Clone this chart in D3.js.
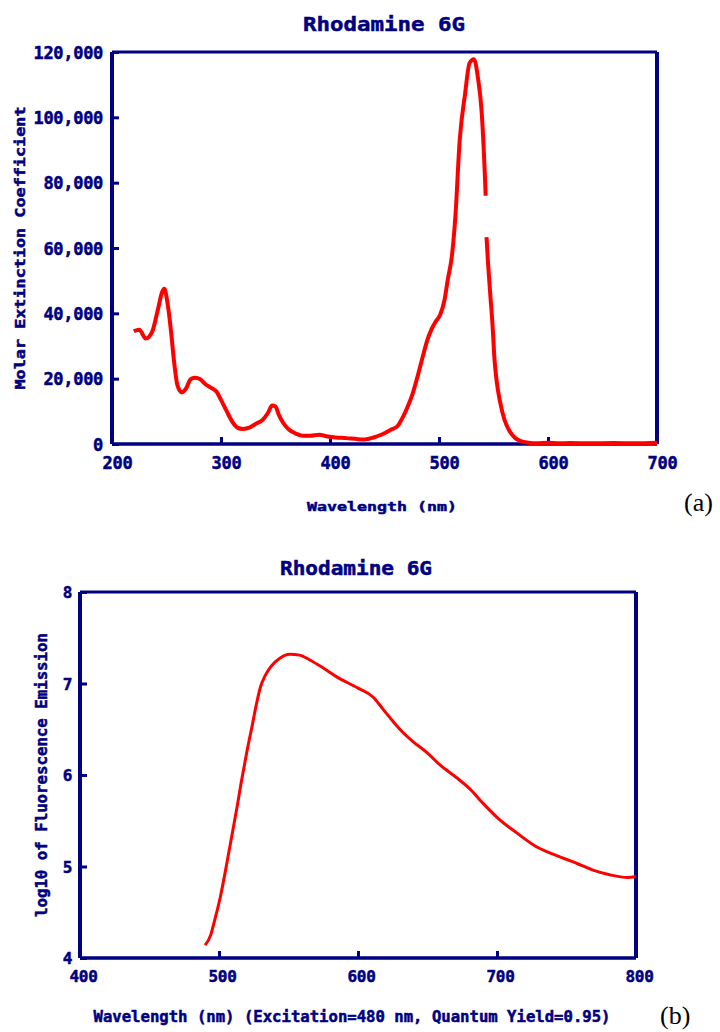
<!DOCTYPE html>
<html>
<head>
<meta charset="utf-8">
<script src="https://cdn.jsdelivr.net/npm/d3@7"></script>
<style>
  html, body { margin: 0; padding: 0; background: #ffffff; }
  svg { display: block; }
</style>
</head>
<body>
<svg id="chart" width="720" height="1032"></svg>
<script>
// ---------- Data ----------
const chartTitle = "Rhodamine 6G";

// (a) absorption spectrum
const absWavelength = [220, 225, 231, 237, 242, 246, 248, 251, 254, 257, 260, 264, 268, 272, 276, 281, 286, 291, 296, 300,
  305, 310, 315, 320, 326, 332, 338, 343, 347, 350, 353, 357, 362, 368, 375, 382, 390, 398, 405, 415,
  425, 432, 440, 448, 455, 462, 467, 472, 476, 481, 485, 489, 493, 497, 501, 505, 508, 512, 515, 519,
  524, 528, 532, 536, 539, 542, 542.8, 543.2, 543.6, 545, 547, 549, 551, 553, 556, 560, 565, 570, 575, 582,
  590, 600, 610, 620, 640, 660, 680, 700];
const absCoefficient = [34500, 35000, 32300, 34500, 41000, 46500, 47500, 43000, 35000, 25000, 18000, 15800, 17000, 19800, 20300, 19800, 18200, 17200, 16000, 13500,
  10200, 7000, 5000, 4600, 5000, 6200, 7300, 9500, 11800, 11500, 9000, 6500, 4500, 3300, 2500, 2500, 2800, 2300, 2000, 1800,
  1500, 1400, 2000, 3000, 4200, 5500, 8300, 12000, 15600, 21500, 26600, 31500, 35000, 37500, 39500, 44000, 50200, 58000, 69500, 93000,
  107400, 116600, 117800, 111400, 102200, 82900, 76000, null, 63300, 55400, 46000, 37000, 25500, 19000, 13000, 7500, 3800, 1800, 900, 400,
  200, 400, 200, 300, 200, 300, 200, 400];
const absXTicks = [200, 300, 400, 500, 600, 700];
const absYTicks = [0, 20000, 40000, 60000, 80000, 100000, 120000];
const absXLabel = "Wavelength (nm)";
const absYLabel = "Molar Extinction Coefficient";

// (b) fluorescence emission spectrum
const emWavelength = [490, 494, 497, 501, 504, 507, 510, 513, 516, 520, 524, 527, 530, 533, 537, 544, 551, 558, 565, 575,
  585, 600, 611, 618, 625, 632, 640, 650, 659, 671, 681, 690, 702, 714, 729, 743, 758, 769, 781, 794, 800];
const emLog = [4.14, 4.25, 4.42, 4.67, 4.90, 5.15, 5.40, 5.65, 5.92, 6.25, 6.55, 6.78, 6.97, 7.08, 7.18, 7.28, 7.32, 7.31, 7.26, 7.17,
  7.07, 6.95, 6.85, 6.72, 6.59, 6.47, 6.36, 6.24, 6.11, 5.97, 5.84, 5.69, 5.51, 5.37, 5.21, 5.12, 5.03, 4.96, 4.91, 4.88, 4.89];
const emXTicks = [400, 500, 600, 700, 800];
const emYTicks = [4, 5, 6, 7, 8];
const emXLabel = "Wavelength (nm) (Excitation=480 nm, Quantum Yield=0.95)";
const emYLabel = "log10 of Fluorescence Emission";

const panelLabels = ["(a)", "(b)"];

// ---------- Drawing ----------
const NAVY = "#000080";
const RED = "#ff0000";
const FONT = "'DejaVu Sans Mono', 'Liberation Mono', monospace";
const svg = d3.select("#chart");

function styleText(sel, size) {
  return sel.attr("fill", NAVY).attr("font-family", FONT).attr("font-weight", "bold")
    .attr("font-size", size).attr("stroke", NAVY).attr("stroke-width", 0.5);
}

function drawPanel(cfg) {
  const x = d3.scaleLinear().domain(cfg.xDomain).range([cfg.left, cfg.right]);
  const y = d3.scaleLinear().domain(cfg.yDomain).range([cfg.bottom, cfg.top]);
  const g = svg.append("g");

  // frame (top + right)
  g.append("line").attr("x1", cfg.left).attr("x2", cfg.right).attr("y1", cfg.top).attr("y2", cfg.top)
    .attr("stroke", NAVY).attr("stroke-width", 3);
  g.append("line").attr("x1", cfg.right).attr("x2", cfg.right).attr("y1", cfg.top).attr("y2", cfg.bottom)
    .attr("stroke", NAVY).attr("stroke-width", 4);

  // bottom axis (ticks inward)
  const xAxis = d3.axisBottom(x).tickValues(cfg.xTicks).tickSize(-7).tickFormat(d3.format("d")).tickPadding(0);
  const gx = g.append("g").attr("transform", `translate(0,${cfg.bottom})`).call(xAxis);
  gx.select(".domain").attr("stroke", NAVY).attr("stroke-width", 3.5).attr("d", `M${cfg.left},0H${cfg.right}`);
  gx.selectAll(".tick line").attr("stroke", NAVY).attr("stroke-width", 3);
  styleText(gx.selectAll(".tick text"), cfg.tickFont).attr("y", cfg.xTickDy).attr("dx", cfg.xTickDx).attr("dy", 0)
    .attr("letter-spacing", cfg.tickSpacing);

  // left axis (ticks inward)
  const yAxis = d3.axisLeft(y).tickValues(cfg.yTicks).tickSize(-7).tickFormat(cfg.yFormat).tickPadding(0);
  const gy = g.append("g").attr("transform", `translate(${cfg.left},0)`).call(yAxis);
  gy.select(".domain").attr("stroke", NAVY).attr("stroke-width", 4).attr("d", `M0,${cfg.top}V${cfg.bottom}`);
  gy.selectAll(".tick line").attr("stroke", NAVY).attr("stroke-width", 3);
  styleText(gy.selectAll(".tick text"), cfg.tickFont).attr("x", cfg.yTickDx).attr("dy", "0.36em")
    .attr("letter-spacing", cfg.tickSpacing);

  // curve
  const pts = cfg.xs.map((v, i) => [v, cfg.ys[i]]);
  const line = d3.line().defined(d => d[1] !== null).curve(d3.curveMonotoneX)
    .x(d => x(d[0])).y(d => y(d[1]));
  g.append("path").datum(pts).attr("d", line).attr("fill", "none").attr("stroke", RED)
    .attr("stroke-width", cfg.lineWidth).attr("stroke-linejoin", "round").attr("stroke-linecap", "butt");

  // title
  styleText(g.append("text").text(cfg.title), cfg.titleFont)
    .attr("x", cfg.titleX).attr("y", cfg.titleY).attr("text-anchor", "middle")
    .attr("textLength", cfg.titleLen).attr("lengthAdjust", "spacingAndGlyphs");

  // x label
  styleText(g.append("text").text(cfg.xLabel), cfg.xLabelFont)
    .attr("x", cfg.xLabelX).attr("y", cfg.xLabelY).attr("text-anchor", "middle")
    .attr("textLength", cfg.xLabelLen).attr("lengthAdjust", "spacingAndGlyphs");

  // y label
  styleText(g.append("text").text(cfg.yLabel), cfg.yLabelFont)
    .attr("transform", `translate(${cfg.yLabelX},${cfg.yLabelY}) rotate(-90)`).attr("text-anchor", "middle")
    .attr("textLength", cfg.yLabelLen).attr("lengthAdjust", "spacingAndGlyphs");

  // panel label
  g.append("text").text(cfg.panel).attr("x", cfg.panelX).attr("y", cfg.panelY)
    .attr("fill", "#000000").attr("font-family", "'Liberation Serif', 'Times New Roman', serif")
    .attr("font-size", 26);
}

drawPanel({
  xDomain: [200, 700], yDomain: [0, 120000],
  left: 112, right: 657, top: 52, bottom: 444,
  xTicks: absXTicks, yTicks: absYTicks, yFormat: d3.format(","),
  tickFont: 17, tickSpacing: -0.3, xTickDy: 25, xTickDx: 5, yTickDx: -9,
  xs: absWavelength, ys: absCoefficient, lineWidth: 4,
  title: chartTitle, titleX: 384, titleY: 31, titleFont: 20, titleLen: 162,
  xLabel: absXLabel, xLabelX: 382, xLabelY: 511, xLabelFont: 13, xLabelLen: 150,
  yLabel: absYLabel, yLabelX: 25, yLabelY: 248, yLabelFont: 14, yLabelLen: 283,
  panel: panelLabels[0], panelX: 684, panelY: 511
});

drawPanel({
  xDomain: [400, 800], yDomain: [4, 8],
  left: 80, right: 636, top: 592, bottom: 958,
  xTicks: emXTicks, yTicks: emYTicks, yFormat: d3.format("d"),
  tickFont: 16, tickSpacing: -0.3, xTickDy: 24, xTickDx: 3, yTickDx: -8,
  xs: emWavelength, ys: emLog, lineWidth: 3,
  title: chartTitle, titleX: 356, titleY: 575, titleFont: 19, titleLen: 152,
  xLabel: emXLabel, xLabelX: 352, xLabelY: 1022, xLabelFont: 15, xLabelLen: 517,
  yLabel: emYLabel, yLabelX: 47, yLabelY: 775, yLabelFont: 15, yLabelLen: 284,
  panel: panelLabels[1], panelX: 660, panelY: 1024
});
</script>
</body>
</html>
